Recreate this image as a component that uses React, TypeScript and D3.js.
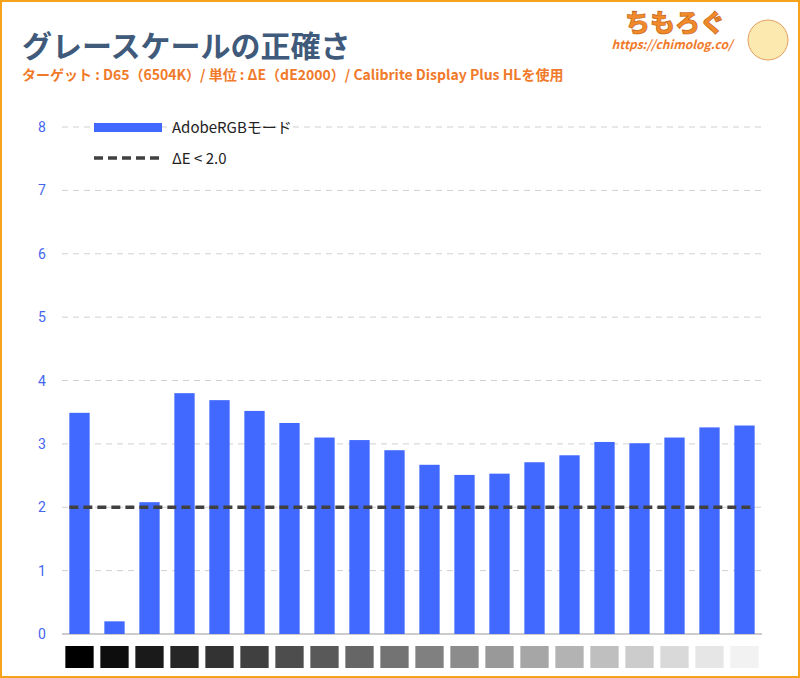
import * as d3 from "d3"

const values = [3.49, 0.2, 2.08, 3.8, 3.69, 3.52, 3.33, 3.1, 3.06, 2.9, 2.67, 2.51, 2.53, 2.71, 2.82, 3.03, 3.01, 3.1, 3.26, 3.29]
const grays = [0, 13, 26, 38, 51, 64, 77, 89, 102, 115, 128, 140, 153, 166, 179, 191, 204, 217, 230, 242]
const yTicks = [0, 1, 2, 3, 4, 5, 6, 7, 8]
const target = 2.0

export default function App() {
  const W = 800, H = 678
  const left = 62, right = 762
  const x = d3.scaleBand<number>().domain(d3.range(values.length)).range([left, right]).paddingInner(0.42).paddingOuter(0.21)
  const y = d3.scaleLinear().domain([0, 8]).range([634, 127])
  const font = "'Noto Sans CJK JP', 'Noto Sans', sans-serif"
  return (
    <svg width={W} height={H} style={{ position: "absolute", left: 0, top: 0 }} fontFamily={font}>
      <rect x={1} y={1} width={W - 2} height={H - 2} fill="#fff" stroke="#f7a21b" strokeWidth={2} />
      <text x={22} y={57} fontSize={30} fontWeight={700} fill="#3f5a7a">グレースケールの正確さ</text>
      <text x={22} y={80} fontSize={14} fontWeight={700} fill="#f07a2a">ターゲット : D65（6504K）/ 単位 : ΔE（dE2000）/ Calibrite Display Plus HLを使用</text>
      <text x={675} y={32} fontSize={25} fontWeight={900} fill="#f08a2a" textAnchor="middle" stroke="#c05a10" strokeWidth={0.6}>ちもろぐ</text>
      <text x={672} y={49} fontSize={12} fontWeight={700} fontStyle="italic" fill="#f07a2a" textAnchor="middle">https://chimolog.co/</text>
      <circle cx={768} cy={40} r={20} fill="#fce9b0" stroke="#e8a060" />
      {yTicks.map(t => (
        <g key={t}>
          {t > 0 && <line x1={left} x2={right} y1={y(t)} y2={y(t)} stroke="#d0d0d0" strokeDasharray="6,5" />}
          <text x={42} y={y(t) + 5} fontSize={14} fill="#4466ee" textAnchor="middle" fontFamily="Roboto, sans-serif">{t}</text>
        </g>
      ))}
      <line x1={left} x2={right} y1={y(0)} y2={y(0)} stroke="#cccccc" strokeWidth={2} />
      {values.map((v, i) => (
        <rect key={i} x={x(i)} y={y(v)} width={x.bandwidth()} height={y(0) - y(v)} fill="#4169ff" />
      ))}
      <line x1={x(0)!} x2={x(values.length - 1)! + x.bandwidth()} y1={y(target)} y2={y(target)} stroke="#404040" strokeWidth={3.5} strokeDasharray="9,5" />
      {grays.map((g, i) => (
        <rect key={i} x={x(i)! - 4} y={646} width={x.bandwidth() + 8} height={22} fill={`rgb(${g},${g},${g})`} />
      ))}
      <rect x={94} y={123} width={68} height={9} fill="#4169ff" />
      <text x={172} y={133} fontSize={15} fill="#222">AdobeRGBモード</text>
      <line x1={94} x2={162} y1={158} y2={158} stroke="#404040" strokeWidth={3.5} strokeDasharray="9,5" />
      <text x={172} y={164} fontSize={15} fill="#222">ΔE &lt; 2.0</text>
    </svg>
  )
}
